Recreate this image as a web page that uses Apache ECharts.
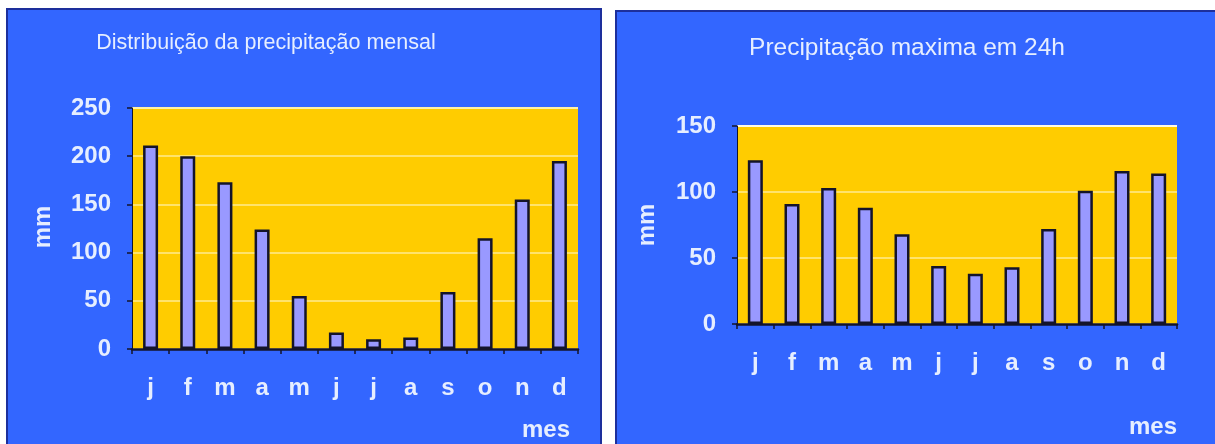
<!DOCTYPE html>
<html>
<head>
<meta charset="utf-8">
<title>Precipitação</title>
<script src="https://cdn.jsdelivr.net/npm/echarts@6/dist/echarts.min.js"></script>
<style>
  html, body { margin: 0; padding: 0; background: #ffffff; }
  #chart { width: 1215px; height: 444px; }
</style>
</head>
<body>
<div id="chart"></div>
<script>
// Month initials shared by both charts
const months = ['j', 'f', 'm', 'a', 'm', 'j', 'j', 'a', 's', 'o', 'n', 'd'];
// Monthly precipitation totals (mm)
const monthlyRain = [211, 200, 173, 124, 55, 17, 10, 12, 59, 115, 155, 195];
// Maximum precipitation in 24 hours (mm)
const maxRain24h = [124, 91, 103, 88, 68, 44, 38, 43, 72, 101, 116, 114];
// Axis ranges and titles
const leftTicks = { min: 0, max: 250, step: 50 };
const rightTicks = { min: 0, max: 150, step: 50 };
const titles = ['Distribuição da precipitação mensal', 'Precipitação maxima em 24h'];

const FONT = '"Liberation Sans", Arial, sans-serif';
const TEXT = '#e6eeff';
const PANEL = '#3366ff';
const PLOT = '#ffcc00';
const BAR = '#9999ff';
const DARK = '#14142a';

const chart = echarts.init(document.getElementById('chart'), null, { renderer: 'canvas' });

function yAxis(gridIndex, ticks, topLineColor) {
  const n = (ticks.max - ticks.min) / ticks.step + 1;
  const colors = [];
  for (let i = 0; i < n; i++) colors.push(i === n - 1 ? topLineColor : '#ffe36b');
  return {
    type: 'value', gridIndex,
    min: ticks.min, max: ticks.max, interval: ticks.step,
    axisLine: { show: true, lineStyle: { color: DARK, width: 1 } },
    axisTick: { show: true, length: 5, lineStyle: { color: DARK, width: 1.5 } },
    axisLabel: { color: TEXT, fontFamily: FONT, fontSize: 24, fontWeight: 'bold', margin: 21 },
    splitLine: { show: true, lineStyle: { color: colors, width: 2 } }
  };
}

function xAxis(gridIndex, margin) {
  return {
    type: 'category', gridIndex, data: months,
    axisLine: { show: true, lineStyle: { color: DARK, width: 2.5 } },
    axisTick: { show: true, length: 5, lineStyle: { color: DARK, width: 1.5 } },
    axisLabel: { color: TEXT, fontFamily: FONT, fontSize: 24, fontWeight: 'bold', margin, interval: 0 }
  };
}

function bars(xAxisIndex, data) {
  return {
    type: 'bar', xAxisIndex, yAxisIndex: xAxisIndex, data,
    barWidth: 15,
    itemStyle: { color: BAR, borderColor: DARK, borderWidth: 2.5 },
    animation: false
  };
}

function label(text, x, y, size, rotate) {
  return {
    type: 'text', x, y, rotation: rotate ? Math.PI / 2 : 0, z: 10,
    style: {
      text, fill: TEXT, fontFamily: FONT, fontSize: size, fontWeight: 'bold',
      align: 'center', verticalAlign: 'middle'
    }
  };
}

chart.setOption({
  backgroundColor: '#ffffff',
  animation: false,
  title: [
    { text: titles[0], left: 261, top: 27, textAlign: 'center',
      textStyle: { color: TEXT, fontFamily: FONT, fontSize: 21.5, fontWeight: 'normal' } },
    { text: titles[1], left: 902, top: 31, textAlign: 'center',
      textStyle: { color: TEXT, fontFamily: FONT, fontSize: 24.5, fontWeight: 'normal' } }
  ],
  graphic: [
    { type: 'rect', z: -10, shape: { x: 7, y: 9, width: 594, height: 440 },
      style: { fill: PANEL, stroke: '#1d2f9c', lineWidth: 2 } },
    { type: 'rect', z: -10, shape: { x: 616, y: 11, width: 604, height: 440 },
      style: { fill: PANEL, stroke: '#1d2f9c', lineWidth: 2 } },
    label('mm', 43, 227, 24, true),
    label('mm', 647, 225, 24, true),
    label('mes', 546, 430, 24, false),
    label('mes', 1153, 427, 24, false)
  ],
  grid: [
    { left: 132, right: 637, top: 108, bottom: 95, show: true, backgroundColor: PLOT, borderWidth: 0 },
    { left: 737, right: 38, top: 126, bottom: 120, show: true, backgroundColor: PLOT, borderWidth: 0 }
  ],
  xAxis: [xAxis(0, 27), xAxis(1, 27)],
  yAxis: [yAxis(0, leftTicks, '#fff2a8'), yAxis(1, rightTicks, '#fffbe6')],
  series: [bars(0, monthlyRain), bars(1, maxRain24h)]
});
</script>
</body>
</html>
